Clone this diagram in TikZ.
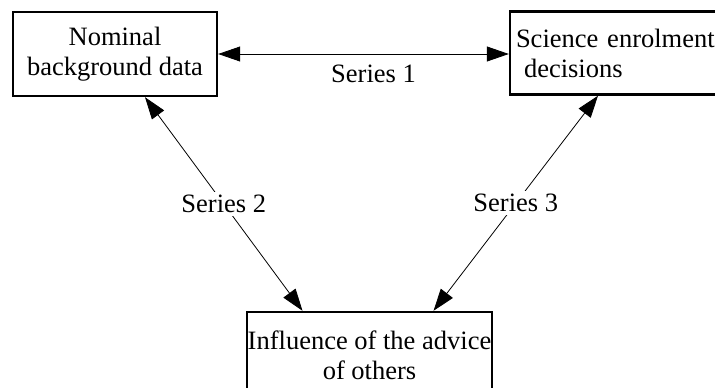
\documentclass[tikz,border=0pt]{standalone}
\usepackage{fontspec}
\setmainfont{Liberation Serif}
\usetikzlibrary{arrows.meta}
\begin{document}
\begin{tikzpicture}[x=1pt,y=-1pt,
	box/.style={draw, line width=2.4pt, inner sep=0pt, align=center,
		font=\fontsize{26.5}{30}\selectfont},
	link/.style={{Triangle[length=22pt,width=15pt]}-{Triangle[length=22pt,width=15pt]}, line width=0.8pt},
	series/.style={fill=white, inner sep=3pt, font=\fontsize{26.5}{30}\selectfont}]

	\useasboundingbox (0,0) rectangle (715,388);

	\node[box, minimum width=204pt, minimum height=84pt] (n1) at (115,54) {Nominal\\background data};
	\node[box, minimum width=234pt, minimum height=83pt, text width=222pt, align=left] (n2) at (627,53) {Science enrolment\\\hspace*{8pt}decisions};
	\node[box, minimum width=245pt, minimum height=86pt] (n3) at (369.5,355) {Influence of the advice\\of others};

	\draw[link] (n1.east) -- (n1.east -| n2.west)
		node[midway, below=8pt, xshift=10pt, series] {Series 1};
	\draw[link] ([xshift=30pt]n1.south) -- ([xshift=-67pt]n3.north)
		node[midway, series] {Series 2};
	\draw[link] ([xshift=-29pt]n2.south) -- ([xshift=64pt]n3.north)
		node[midway, series] {Series 3};
\end{tikzpicture}
\end{document}
